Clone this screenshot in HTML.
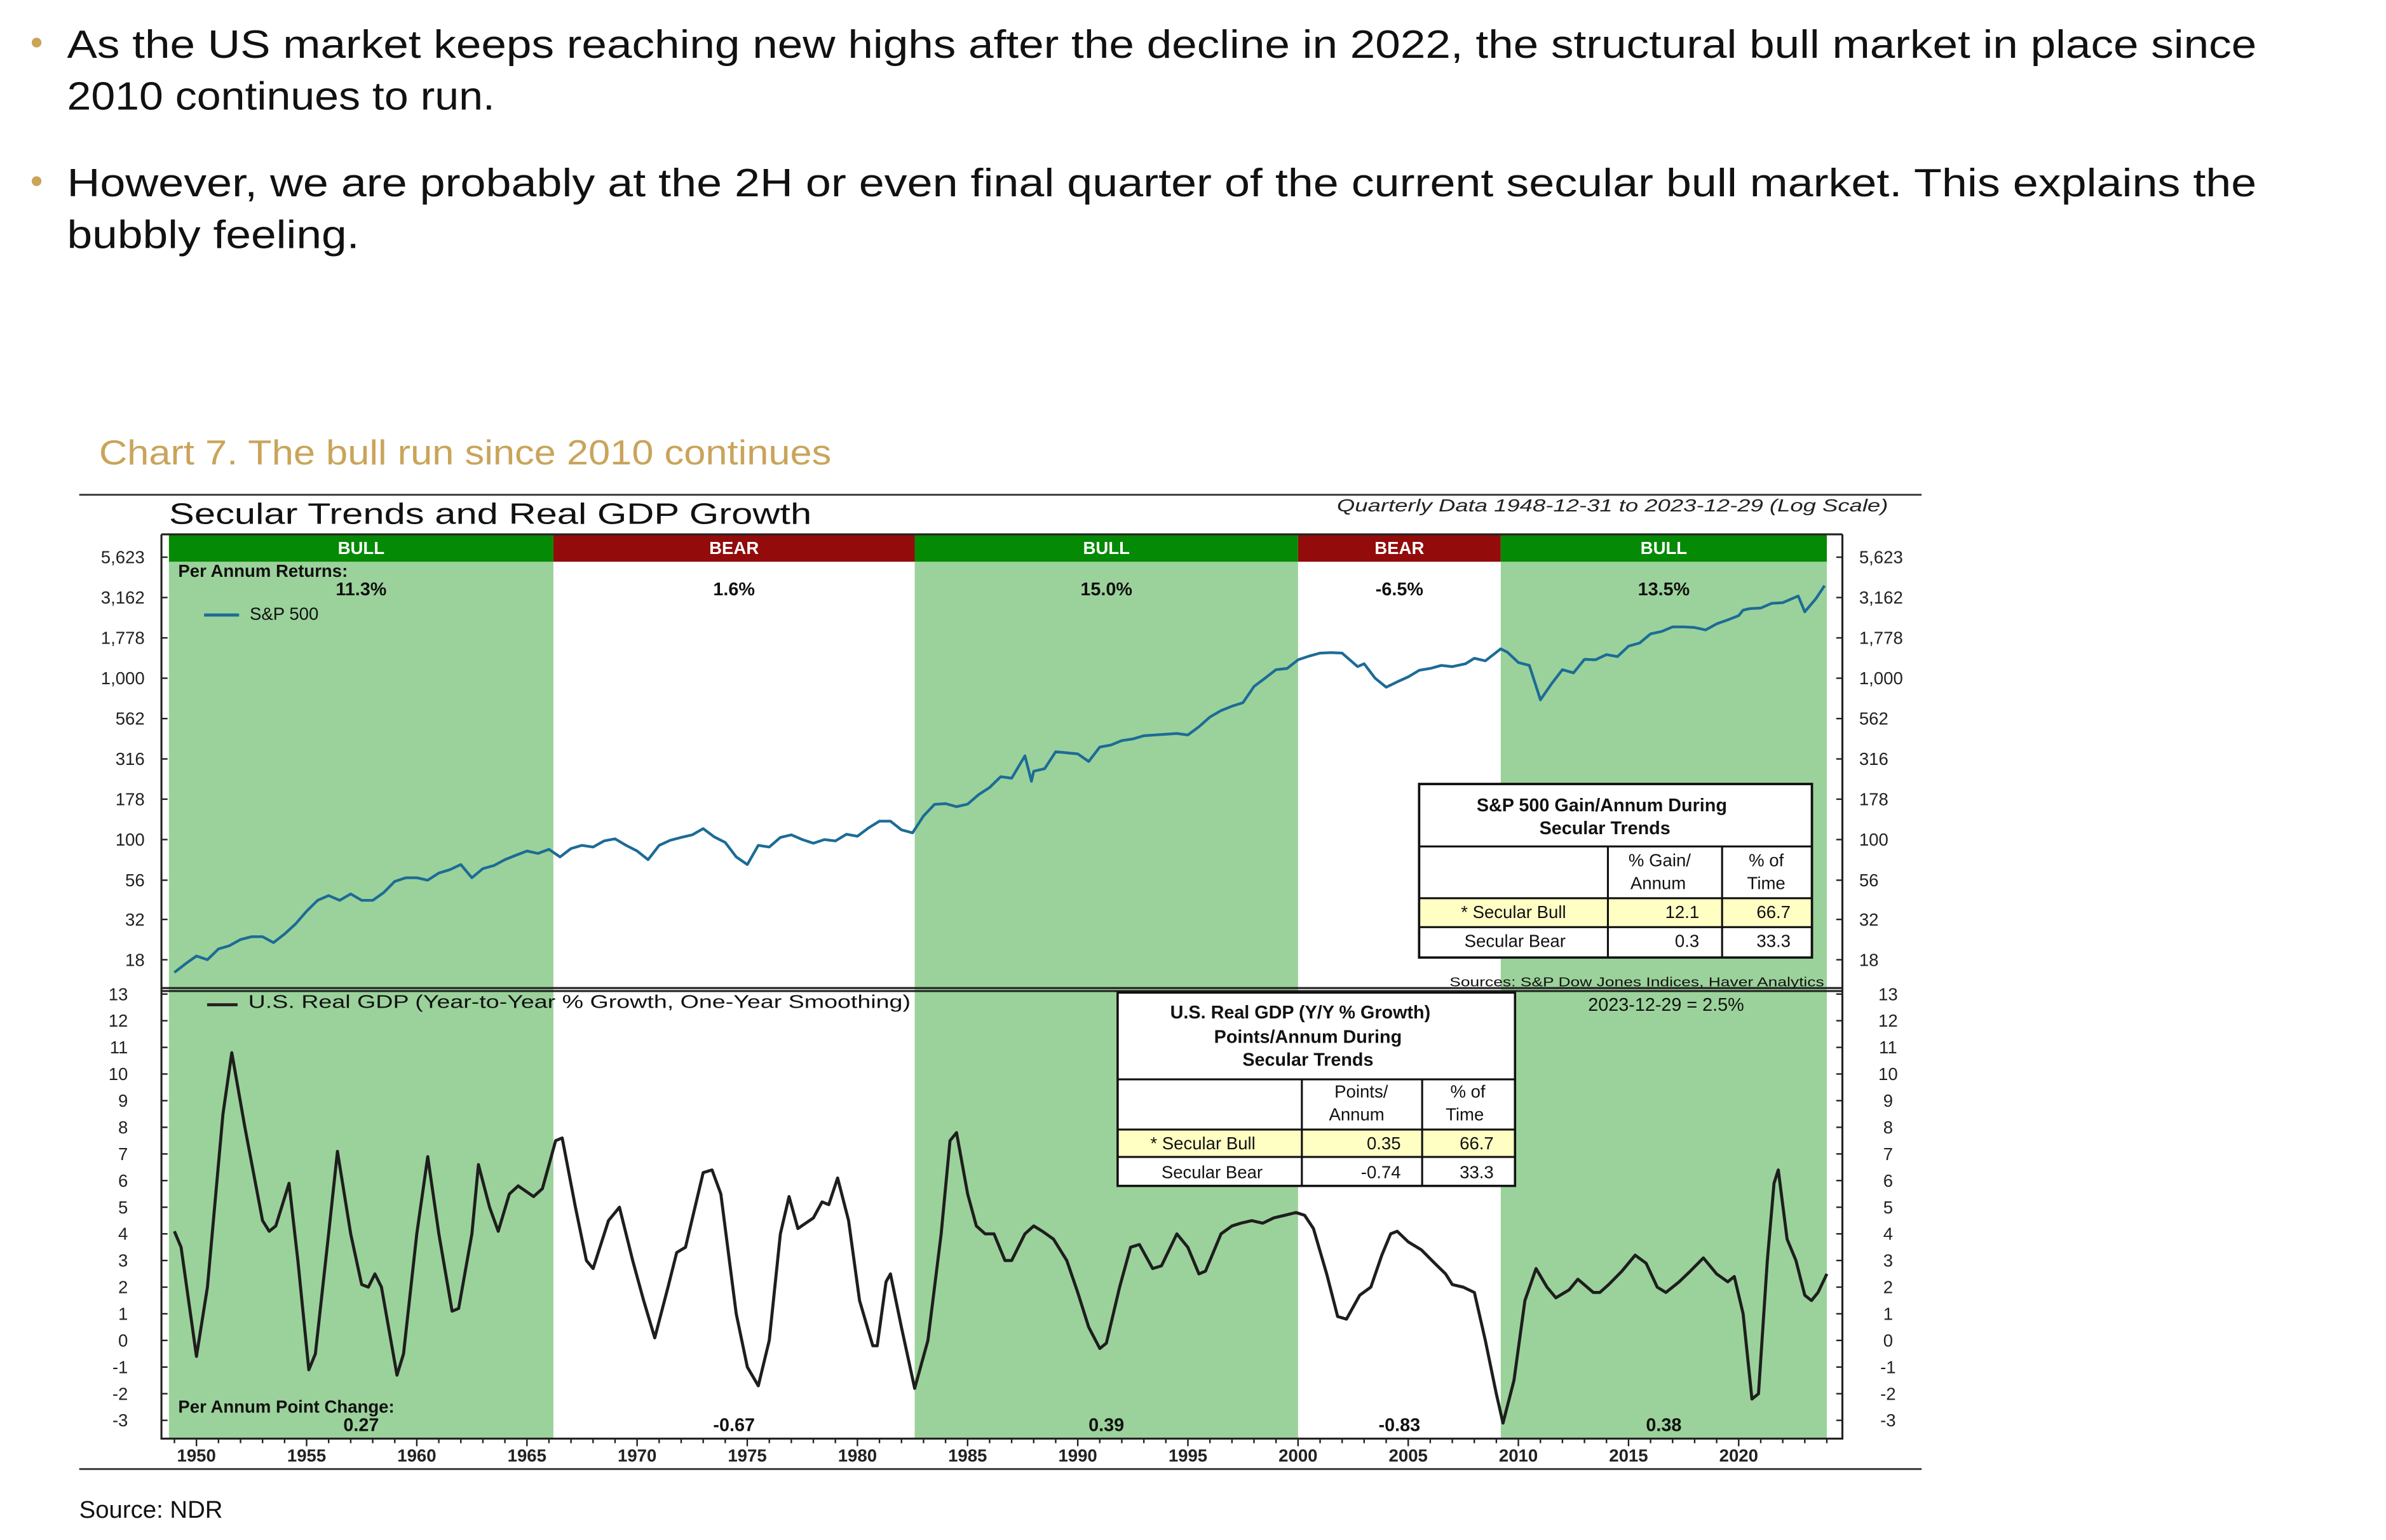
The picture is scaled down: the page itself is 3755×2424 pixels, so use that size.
<!DOCTYPE html>
<html><head><meta charset="utf-8"><style>
html,body{margin:0;padding:0;background:#fff}
svg{display:block}
text{font-family:"Liberation Sans",sans-serif}
</style></head><body>
<svg id="s" width="3755" height="2424" viewBox="0 0 1567 1011.6" xmlns="http://www.w3.org/2000/svg">
<g font-size="26" fill="#111">
<circle cx="24" cy="28" r="3.2" fill="#c9a45a"/>
<text x="44" y="38" textLength="1438" lengthAdjust="spacingAndGlyphs">As the US market keeps reaching new highs after the decline in 2022, the structural bull market in place since</text>
<text x="44" y="72" textLength="281" lengthAdjust="spacingAndGlyphs">2010 continues to run.</text>
<circle cx="24" cy="119" r="3.2" fill="#c9a45a"/>
<text x="44" y="129" textLength="1438" lengthAdjust="spacingAndGlyphs">However, we are probably at the 2H or even final quarter of the current secular bull market. This explains the</text>
<text x="44" y="163" textLength="192" lengthAdjust="spacingAndGlyphs">bubbly feeling.</text>
</g>
<text x="65" y="305" font-size="23" fill="#c9a45a" textLength="481" lengthAdjust="spacingAndGlyphs">Chart 7. The bull run since 2010 continues</text>
<line x1="52" y1="325" x2="1262" y2="325" stroke="#333" stroke-width="1.2"/>
<line x1="52" y1="965" x2="1262" y2="965" stroke="#333" stroke-width="1.2"/>
<text x="111" y="344" font-size="19.5" fill="#111" textLength="422" lengthAdjust="spacingAndGlyphs">Secular Trends and Real GDP Growth</text>
<text x="1240" y="336" font-size="11.5" font-style="italic" text-anchor="end" fill="#222" textLength="362" lengthAdjust="spacingAndGlyphs">Quarterly Data 1948-12-31 to 2023-12-29 (Log Scale)</text>
<g id="plot"></g>
<text x="52" y="997" font-size="16" fill="#111">Source: NDR</text>
</svg>
<script>
const spYears=[1949,1949.5,1950,1950.5,1951,1951.5,1952,1952.5,1953,1953.5,1954,1954.5,1955,1955.5,1956,1956.5,1957,1957.5,1958,1958.5,1959,1959.5,1960,1960.5,1961,1961.5,1962,1962.5,1963,1963.5,1964,1964.5,1965,1965.5,1966,1966.5,1967,1967.5,1968,1968.5,1969,1969.5,1970,1970.5,1971,1971.5,1972,1972.5,1973,1973.5,1974,1974.5,1975,1975.5,1976,1976.5,1977,1977.5,1978,1978.5,1979,1979.5,1980,1980.5,1981,1981.5,1982,1982.5,1983,1983.5,1984,1984.5,1985,1985.5,1986,1986.5,1987,1987.6,1987.9,1988,1988.5,1989,1989.5,1990,1990.5,1991,1991.5,1992,1992.5,1993,1993.5,1994,1994.5,1995,1995.5,1996,1996.5,1997,1997.5,1998,1998.5,1999,1999.5,2000,2000.5,2001,2001.5,2002,2002.7,2003,2003.5,2004,2004.5,2005,2005.5,2006,2006.5,2007,2007.6,2008,2008.5,2009.2,2009.5,2010,2010.5,2011,2011.5,2012,2012.5,2013,2013.5,2014,2014.5,2015,2015.5,2016,2016.5,2017,2017.5,2018,2018.5,2019,2019.5,2020,2020.2,2020.5,2021,2021.5,2022,2022.7,2023,2023.5,2023.9];
const spValues=[15,17,19,18,21,22,24,25,25,23,26,30,36,42,45,42,46,42,42,47,55,58,58,56,62,65,70,58,66,69,75,80,85,82,87,78,88,92,90,98,101,92,85,75,92,99,103,107,117,104,96,78,70,92,90,103,107,100,95,100,98,108,105,118,130,130,115,110,140,165,167,160,166,190,210,245,240,330,230,265,275,350,345,340,305,375,385,410,420,440,445,450,455,445,500,575,630,670,705,890,1000,1130,1150,1300,1370,1430,1440,1430,1180,1230,1000,880,950,1020,1120,1150,1200,1180,1230,1330,1280,1520,1450,1250,1200,735,920,1130,1080,1310,1300,1400,1360,1580,1650,1880,1950,2080,2080,2060,1990,2170,2300,2440,2640,2700,2720,2910,2940,3230,2580,3100,3750,4300,4760,4100,3800,4100,4450,4770];
const gdpYears=[1949,1949.3,1950,1950.5,1951.2,1951.6,1952.2,1953,1953.3,1953.6,1954.2,1954.6,1955.1,1955.4,1956,1956.4,1957,1957.5,1957.8,1958.1,1958.4,1959.1,1959.4,1960,1960.5,1961,1961.6,1961.9,1962.5,1962.8,1963.3,1963.7,1964.2,1964.6,1965.3,1965.7,1966.3,1966.6,1967.2,1967.7,1968,1968.7,1969.2,1969.8,1970.3,1970.8,1971.4,1971.8,1972.2,1973,1973.4,1973.8,1974.5,1975,1975.5,1976,1976.5,1976.9,1977.3,1978,1978.4,1978.7,1979.1,1979.6,1980.1,1980.7,1980.9,1981.3,1981.5,1982,1982.6,1983.2,1983.8,1984.2,1984.5,1985,1985.4,1985.8,1986.2,1986.7,1987,1987.6,1988,1988.4,1988.9,1989.5,1990,1990.5,1991,1991.3,1991.9,1992.4,1992.8,1993.4,1993.8,1994.5,1995,1995.5,1995.8,1996.5,1997,1997.4,1997.9,1998.4,1998.9,1999.4,1999.9,2000.3,2000.7,2001.3,2001.8,2002.2,2002.8,2003.3,2003.8,2004.2,2004.5,2005,2005.6,2006.2,2006.7,2007,2007.5,2008,2008.5,2009,2009.3,2009.8,2010.3,2010.8,2011.3,2011.7,2012.3,2012.7,2013.4,2013.7,2014.1,2014.7,2015.3,2015.8,2016.3,2016.7,2017.3,2017.8,2018.4,2019,2019.5,2019.8,2020.2,2020.6,2020.9,2021.3,2021.6,2021.8,2022.2,2022.6,2023,2023.3,2023.6,2024];
const gdpValues=[4.1,3.5,-0.6,2,8.5,10.8,8,4.5,4.1,4.3,5.9,3,-1.1,-0.5,4,7.1,4,2.1,2,2.5,2,-1.3,-0.5,4,6.9,4,1.1,1.2,4,6.6,5,4.1,5.5,5.8,5.4,5.7,7.5,7.6,5,3,2.7,4.5,5,3,1.5,0.1,2,3.3,3.5,6.3,6.4,5.5,1,-1,-1.7,0,4,5.4,4.2,4.6,5.2,5.1,6.1,4.5,1.5,-0.2,-0.2,2.2,2.5,0.5,-1.8,0,4,7.5,7.8,5.5,4.3,4,4,3,3,4,4.3,4.1,3.8,3,1.8,0.5,-0.3,-0.1,2,3.5,3.6,2.7,2.8,4,3.5,2.5,2.6,4,4.3,4.4,4.5,4.4,4.6,4.7,4.8,4.7,4.2,2.5,0.9,0.8,1.7,2,3.2,4,4.1,3.7,3.4,2.9,2.5,2.1,2,1.8,0,-2,-3.1,-1.5,1.5,2.7,2,1.6,1.9,2.3,1.8,1.8,2.1,2.6,3.2,2.9,2,1.8,2.2,2.6,3.1,2.5,2.2,2.4,1,-2.2,-2,3,5.9,6.4,3.8,3,1.7,1.5,1.8,2.5];
const regimeStarts=[1948.75,1966.2,1982.6,2000.0,2009.2];
const regimeEnds=[1966.2,1982.6,2000.0,2009.2,2024.0];
const regimeTypes=["BULL","BEAR","BULL","BEAR","BULL"];
const regimeReturns=["11.3%","1.6%","15.0%","-6.5%","13.5%"];
const regimeGdp=["0.27","-0.67","0.39","-0.83","0.38"];
const spTicks=[5623,3162,1778,1000,562,316,178,100,56,32,18];
const gdpTicks=[13,12,11,10,9,8,7,6,5,4,3,2,1,0,-1,-2,-3];
const yearTicks=[1950,1955,1960,1965,1970,1975,1980,1985,1990,1995,2000,2005,2010,2015,2020];

const NS="http://www.w3.org/2000/svg";
const P=document.getElementById('plot');
function mk(tag,attrs,parent,txt){const e=document.createElementNS(NS,tag);for(const k in attrs)e.setAttribute(k,attrs[k]);if(txt!==undefined)e.textContent=txt;(parent||P).appendChild(e);return e;}
const X=y=>129+(y-1950)*14.47;
const YS=v=>366+(3.75-Math.log10(v))*106;
const YG=v=>653+(13-v)*17.5;
const L=106,R=1210,T=351,B=945,D=649;

regimeStarts.forEach((s,i)=>{
  const x0=X(s),x1=X(regimeEnds[i]);
  if(regimeTypes[i]==="BULL"){
    const r=mk('rect',{x:x0,y:369,width:x1-x0,height:B-369,fill:'#9bd29b'});
    
    
  }
  const b=mk('rect',{x:x0,y:T,width:x1-x0,height:18,fill:regimeTypes[i]==="BULL"?'#058a05':'#930b0b'});
  
  
  const cx=(x0+x1)/2;
  const t=mk('text',{x:cx,y:364,'font-size':11.5,'font-weight':'bold',fill:'#fff','text-anchor':'middle'},P,regimeTypes[i]);
  
  
  const r2=mk('text',{x:cx,y:391,'font-size':12,'font-weight':'bold',fill:'#111','text-anchor':'middle'},P,regimeReturns[i]);
  
  
  const g2=mk('text',{x:cx,y:940,'font-size':12,'font-weight':'bold',fill:'#111','text-anchor':'middle'},P,regimeGdp[i]);
  
  
});
mk('path',{d:`M${L} ${T}V${B}H${R}V${T}M${L} ${T}H${R}M${L} ${D}H${R}M${L} ${D+2}H${R}`,stroke:'#222','stroke-width':1.3,fill:'none'});
spTicks.forEach(v=>{const y=YS(v);const lab=v.toLocaleString('en-US');
  mk('line',{x1:L,x2:L+4,y1:y,y2:y,stroke:'#222'});mk('line',{x1:R-4,x2:R,y1:y,y2:y,stroke:'#222'});
  const a=mk('text',{x:95,y:y+4,'font-size':11.5,'text-anchor':'end',fill:'#222'},P,lab);
  
  
  const b=mk('text',{x:1221,y:y+4,'font-size':11.5,fill:'#222'},P,lab);
  
  
});
gdpTicks.forEach(v=>{const y=YG(v);
  mk('line',{x1:L,x2:L+4,y1:y,y2:y,stroke:'#222'});mk('line',{x1:R-4,x2:R,y1:y,y2:y,stroke:'#222'});
  const a=mk('text',{x:84,y:y+4,'font-size':11.5,'text-anchor':'end',fill:'#222'},P,String(v));
  
  
  const b=mk('text',{x:1240,y:y+4,'font-size':11.5,'text-anchor':'middle',fill:'#222'},P,String(v));
  
  
});
for(let y=1949;y<=2024;y++){mk('line',{x1:X(y),x2:X(y),y1:B,y2:B+(y%5?3:5),stroke:'#222'});}
yearTicks.forEach(y=>{const t=mk('text',{x:X(y),y:960,'font-size':11.5,'text-anchor':'middle',fill:'#222','font-weight':'bold'},P,String(y));
  
  });
const sp=mk('path',{d:spYears.map((y,i)=>(i?'L':'M')+X(y).toFixed(1)+' '+YS(spValues[i]).toFixed(1)).join(''),stroke:'#1d6b96','stroke-width':1.8,fill:'none','stroke-linejoin':'round'});


const gd=mk('path',{d:gdpYears.map((y,i)=>(i?'L':'M')+X(y).toFixed(1)+' '+YG(gdpValues[i]).toFixed(1)).join(''),stroke:'#1e1e1e','stroke-width':2,fill:'none','stroke-linejoin':'round'});


</script>
<svg style="position:absolute;left:0;top:0" width="3755" height="2424" viewBox="0 0 1567 1011.6">
<g font-family="Liberation Sans, sans-serif" fill="#111">
<text x="117" y="379" font-size="11.5" font-weight="bold">Per Annum Returns:</text>
<line x1="134" y1="404" x2="157" y2="404" stroke="#1d6b96" stroke-width="2"/>
<text x="164" y="407" font-size="11.5">S&amp;P 500</text>
<line x1="136" y1="660" x2="156" y2="660" stroke="#222" stroke-width="2"/>
<text x="163" y="662" font-size="12" textLength="435" lengthAdjust="spacingAndGlyphs">U.S. Real GDP (Year-to-Year % Growth, One-Year Smoothing)</text>
<text x="1043" y="664" font-size="12">2023-12-29 = 2.5%</text>
<text x="117" y="928" font-size="11.5" font-weight="bold">Per Annum Point Change:</text>
<text x="952" y="648" font-size="8.5" textLength="246" lengthAdjust="spacingAndGlyphs">Sources: S&amp;P Dow Jones Indices, Haver Analytics</text>
<g>
<rect x="932" y="515" width="258" height="114" fill="#fff" stroke="#111" stroke-width="1.5"/>
<rect x="932" y="590" width="258" height="19" fill="#ffffc4"/>
<path d="M932 556H1190M932 590H1190M932 609H1190M1056 556V629M1131 556V629" stroke="#111" stroke-width="1.3"/>
<rect x="932" y="515" width="258" height="114" fill="none" stroke="#111" stroke-width="1.5"/>
<text x="1052" y="533" font-size="12" font-weight="bold" text-anchor="middle">S&amp;P 500 Gain/Annum During</text>
<text x="1054" y="548" font-size="12" font-weight="bold" text-anchor="middle">Secular Trends</text>
<text x="1090" y="569" font-size="11.5" text-anchor="middle">% Gain/</text>
<text x="1089" y="584" font-size="11.5" text-anchor="middle">Annum</text>
<text x="1160" y="569" font-size="11.5" text-anchor="middle">% of</text>
<text x="1160" y="584" font-size="11.5" text-anchor="middle">Time</text>
<text x="994" y="603" font-size="11.5" text-anchor="middle">* Secular Bull</text>
<text x="1116" y="603" font-size="11.5" text-anchor="end">12.1</text>
<text x="1176" y="603" font-size="11.5" text-anchor="end">66.7</text>
<text x="995" y="622" font-size="11.5" text-anchor="middle">Secular Bear</text>
<text x="1116" y="622" font-size="11.5" text-anchor="end">0.3</text>
<text x="1176" y="622" font-size="11.5" text-anchor="end">33.3</text>
</g>
<g>
<rect x="734" y="652" width="261" height="127" fill="#fff"/>
<rect x="734" y="742" width="261" height="18" fill="#ffffc4"/>
<path d="M734 709H995M734 742H995M734 760H995M855 709V779M934 709V779" stroke="#111" stroke-width="1.3"/>
<rect x="734" y="652" width="261" height="127" fill="none" stroke="#111" stroke-width="1.5"/>
<text x="854" y="669" font-size="12" font-weight="bold" text-anchor="middle">U.S. Real GDP (Y/Y % Growth)</text>
<text x="859" y="685" font-size="12" font-weight="bold" text-anchor="middle">Points/Annum During</text>
<text x="859" y="700" font-size="12" font-weight="bold" text-anchor="middle">Secular Trends</text>
<text x="894" y="721" font-size="11.5" text-anchor="middle">Points/</text>
<text x="891" y="736" font-size="11.5" text-anchor="middle">Annum</text>
<text x="964" y="721" font-size="11.5" text-anchor="middle">% of</text>
<text x="962" y="736" font-size="11.5" text-anchor="middle">Time</text>
<text x="790" y="755" font-size="11.5" text-anchor="middle">* Secular Bull</text>
<text x="920" y="755" font-size="11.5" text-anchor="end">0.35</text>
<text x="981" y="755" font-size="11.5" text-anchor="end">66.7</text>
<text x="796" y="774" font-size="11.5" text-anchor="middle">Secular Bear</text>
<text x="920" y="774" font-size="11.5" text-anchor="end">-0.74</text>
<text x="981" y="774" font-size="11.5" text-anchor="end">33.3</text>
</g>
</g>
</svg>
</body></html>
